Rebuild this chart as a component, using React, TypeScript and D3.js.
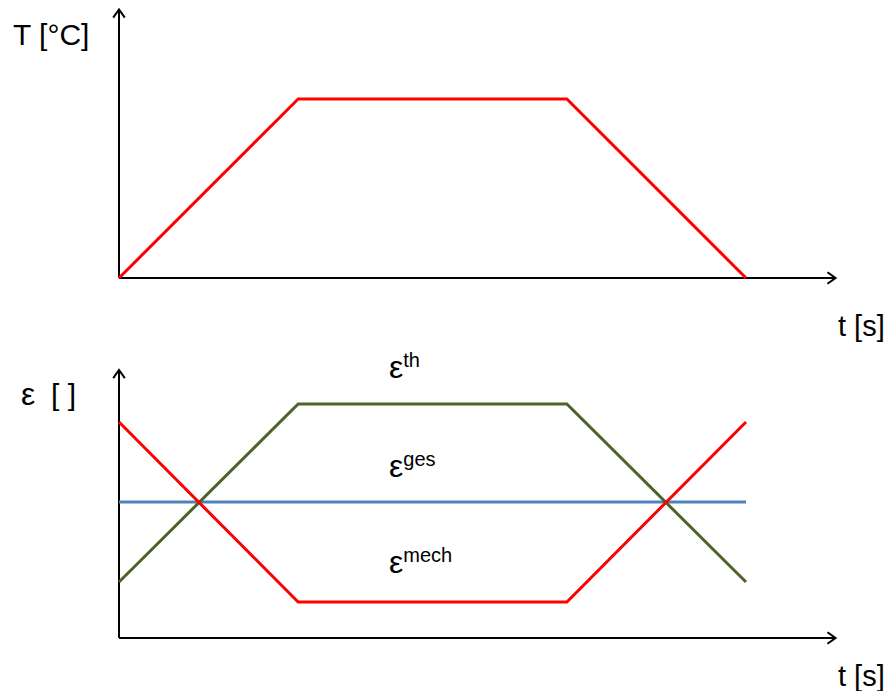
import React from "react";
import * as d3 from "d3";

// Time breakpoints of the thermal cycle [s]
const times = [0, 2, 5, 7];
// Temperature course: heating, holding, cooling
const temperature = [0, 180, 180, 0];
// Strain components over the same breakpoints
const strainTh = [-8, 9.8, 9.8, -8];
const strainMech = [8, -10, -10, 8];
const strainGes = [0, 0, 0, 0];

const W = 891;
const H = 691;

const xScale = d3.scaleLinear().domain([0, 7]).range([119, 746]);
const tEnd = 8; // arrow tip of time axis

const yTop = d3.scaleLinear().domain([0, 180]).range([278, 99]);
const tempAxisTop = 270;

const yBot = d3.scaleLinear().domain([-13.6, 13.2]).range([638, 370]);

const lineTop = d3
  .line<number>()
  .x((_, i) => xScale(times[i]))
  .y((d) => yTop(d));

const lineBot = d3
  .line<number>()
  .x((_, i) => xScale(times[i]))
  .y((d) => yBot(d));

const font = "Liberation Sans, Arial, sans-serif";

function Arrow({ x1, y1, x2, y2 }: { x1: number; y1: number; x2: number; y2: number }) {
  const ang = Math.atan2(y2 - y1, x2 - x1);
  const len = 10;
  const spread = 0.62;
  const a1 = ang + Math.PI - spread;
  const a2 = ang + Math.PI + spread;
  const p = `M${x2 + len * Math.cos(a1)},${y2 + len * Math.sin(a1)} L${x2},${y2} L${
    x2 + len * Math.cos(a2)
  },${y2 + len * Math.sin(a2)}`;
  return (
    <g stroke="#000" fill="none" strokeWidth={2}>
      <line x1={x1} y1={y1} x2={x2} y2={y2} />
      <path d={p} strokeLinejoin="miter" />
    </g>
  );
}

function EpsLabel({ x, y, sup }: { x: number; y: number; sup: string }) {
  return (
    <text x={x} y={y} fontFamily={font} fontSize={32} fill="#000">
      ε
      <tspan fontSize={20} dy={-11}>
        {sup}
      </tspan>
    </text>
  );
}

export default function App() {
  return (
    <svg
      width={W}
      height={H}
      style={{ position: "absolute", left: 0, top: 0, background: "#fff" }}
    >
      {/* Temperature diagram */}
      <Arrow x1={xScale(0)} y1={yTop(0)} x2={xScale(0)} y2={yTop(tempAxisTop)} />
      <Arrow x1={xScale(0)} y1={yTop(0)} x2={xScale(tEnd)} y2={yTop(0)} />
      <path d={lineTop(temperature) ?? ""} fill="none" stroke="#FF0000" strokeWidth={3} />
      <text x={13} y={45} fontFamily={font} fontSize={30} fill="#000">
        T [°C]
      </text>
      <text x={838} y={336} fontFamily={font} fontSize={29} fill="#000">
        t [s]
      </text>

      {/* Strain diagram */}
      <Arrow x1={xScale(0)} y1={yBot(-13.6)} x2={xScale(0)} y2={yBot(13.2)} />
      <Arrow x1={xScale(0)} y1={yBot(-13.6)} x2={xScale(tEnd)} y2={yBot(-13.6)} />
      <path d={lineBot(strainGes) ?? ""} fill="none" stroke="#4F81BD" strokeWidth={3} />
      <path d={lineBot(strainTh) ?? ""} fill="none" stroke="#4F6228" strokeWidth={3} />
      <path d={lineBot(strainMech) ?? ""} fill="none" stroke="#FF0000" strokeWidth={3} />
      <text x={21} y={405} fontFamily={font} fontSize={32} fill="#000">
        ε
      </text>
      <text x={51} y={405} fontFamily={font} fontSize={30} fill="#000">
        [ ]
      </text>
      <text x={838} y={686} fontFamily={font} fontSize={29} fill="#000">
        t [s]
      </text>

      <EpsLabel x={389} y={378} sup="th" />
      <EpsLabel x={389} y={477} sup="ges" />
      <EpsLabel x={389} y={573} sup="mech" />
    </svg>
  );
}
